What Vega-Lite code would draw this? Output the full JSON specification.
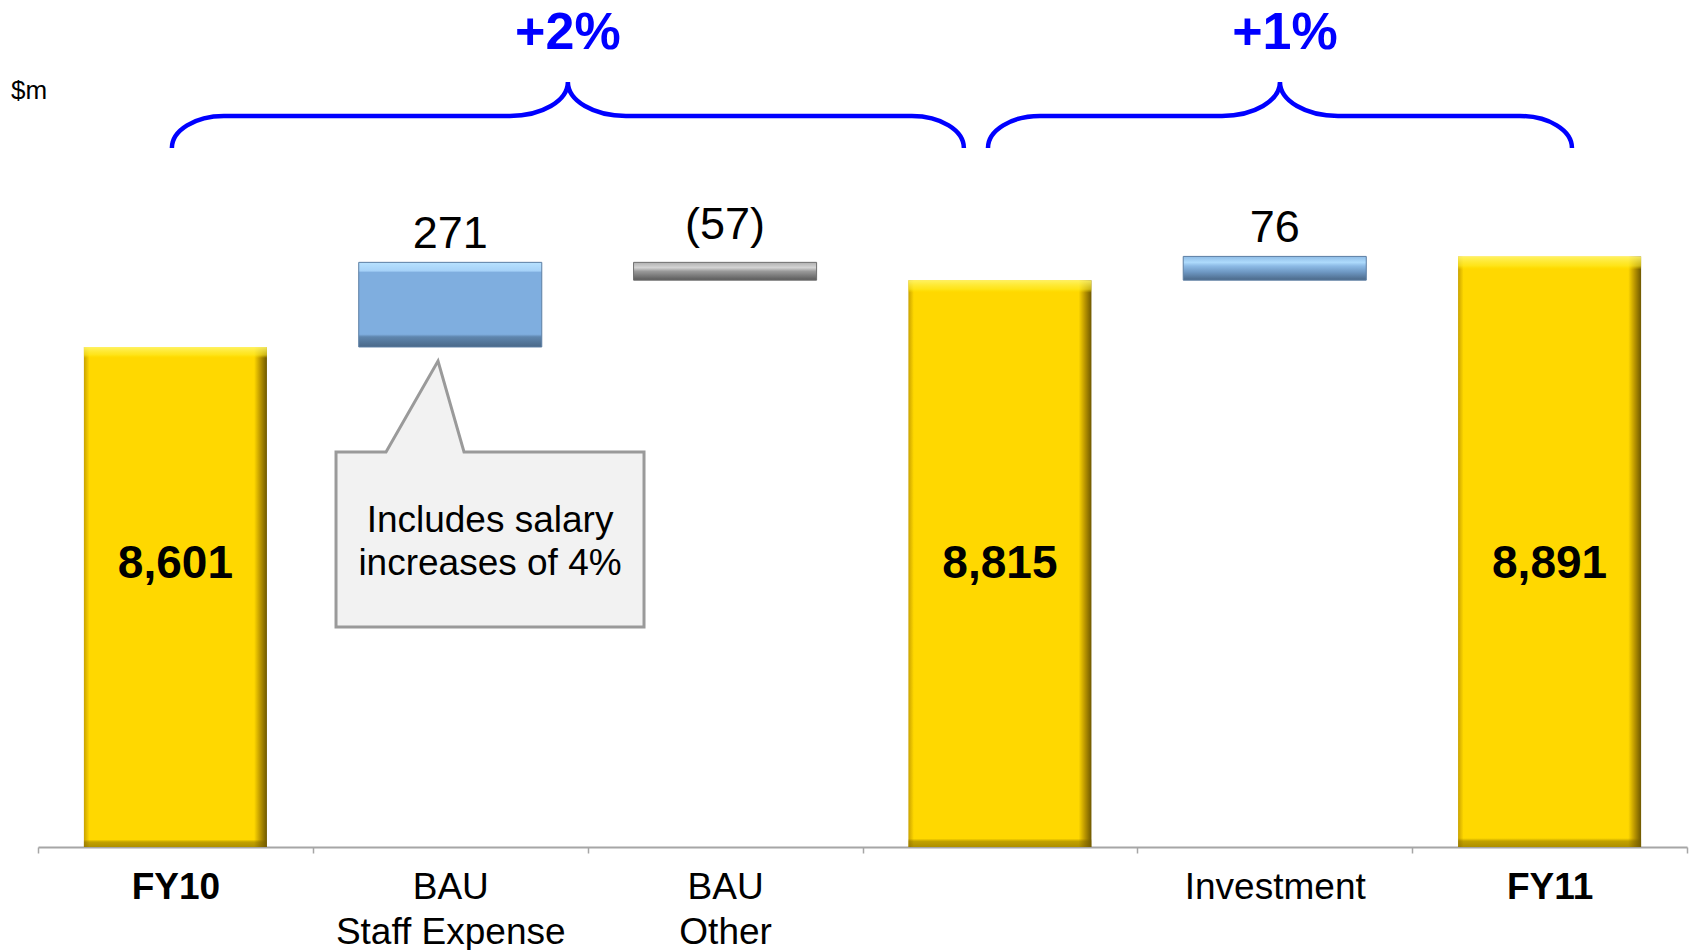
{
  "$schema": "https://vega.github.io/schema/vega-lite/v6.json",
  "width": 1649,
  "height": 847,
  "autosize": {"type": "none"},
  "padding": {"left": 38, "top": 0, "right": 5, "bottom": 103},
  "background": "white",
  "config": {"view": {"stroke": null}, "font": "Liberation Sans"},
  "datasets": {
    "bars": [
      {"cat": "FY10", "start": 0, "end": 8601, "kind": "total", "label": "8,601"},
      {"cat": "BAU Staff Expense", "start": 8601, "end": 8872, "kind": "up", "label": "271"},
      {"cat": "BAU Other", "start": 8872, "end": 8815, "kind": "down", "label": "(57)"},
      {"cat": "Subtotal", "start": 0, "end": 8815, "kind": "total", "label": "8,815"},
      {"cat": "Investment", "start": 8815, "end": 8891, "kind": "up2", "label": "76"},
      {"cat": "FY11", "start": 0, "end": 8891, "kind": "total", "label": "8,891"}
    ]
  },
  "layer": [
    {
      "data": {"name": "bars"},
      "encoding": {
        "x": {
          "field": "cat",
          "type": "nominal",
          "sort": null,
          "scale": {
            "domain": ["FY10", "BAU Staff Expense", "BAU Other", "Subtotal", "Investment", "FY11"],
            "paddingInner": 0,
            "paddingOuter": 0
          },
          "axis": {
            "title": null,
            "labelAngle": 0,
            "grid": false,
            "domainColor": "#A6A6A6",
            "domainWidth": 2,
            "tickColor": "#A6A6A6",
            "tickWidth": 1.5,
            "tickSize": 6,
            "tickBand": "extent",
            "labelFont": "Liberation Sans",
            "labelFontSize": 37,
            "labelColor": "#000000",
            "labelPadding": 16,
            "labelLineHeight": 45,
            "labelLimit": 600,
            "labelOverlap": false,
            "labelBound": false,
            "labelFlush": false,
            "labelFontWeight": {"condition": {"test": "datum.value == 'FY10' || datum.value == 'FY11'", "value": "bold"}, "value": "normal"},
            "labelExpr": "datum.value == 'BAU Staff Expense' ? ['BAU', 'Staff Expense'] : datum.value == 'BAU Other' ? ['BAU', 'Other'] : datum.value == 'Subtotal' ? '' : datum.label"
          }
        }
      },
      "layer": [
        {
          "transform": [{"filter": "datum.kind == 'total'"}],
          "mark": {
            "type": "bar",
            "width": {"band": 0.666},
            "fill": {"gradient": "linear", "x1": 0, "y1": 0, "x2": 1, "y2": 0,
              "stops": [
                {"offset": 0, "color": "#C9A200"},
                {"offset": 0.03, "color": "#FFD800"},
                {"offset": 0.93, "color": "#FFD800"},
                {"offset": 0.965, "color": "#B89400"},
                {"offset": 1, "color": "#6E5800"}
              ]},
            "strokeWidth": 0
          },
          "encoding": {
            "y": {"field": "end", "type": "quantitative", "scale": {"domain": [7000, 9712], "nice": false, "zero": false, "clamp": true}, "axis": null},
            "y2": {"field": "start"}
          }
        },
        {
          "transform": [{"filter": "datum.kind == 'total'"}],
          "mark": {
            "type": "bar",
            "width": {"band": 0.666},
            "fill": {"gradient": "linear", "x1": 0, "y1": 0, "x2": 0, "y2": 1,
              "stops": [
                {"offset": 0, "color": "rgba(255,245,110,0.9)"},
                {"offset": 0.016, "color": "rgba(255,236,40,0.6)"},
                {"offset": 0.022, "color": "rgba(255,230,0,0)"},
                {"offset": 0.985, "color": "rgba(120,95,0,0)"},
                {"offset": 0.99, "color": "rgba(120,95,0,0.45)"},
                {"offset": 1, "color": "rgba(120,95,0,0.6)"}
              ]},
            "strokeWidth": 0
          },
          "encoding": {
            "y": {"field": "end", "type": "quantitative"},
            "y2": {"field": "start"}
          }
        },
        {
          "transform": [{"filter": "datum.kind == 'up'"}],
          "mark": {
            "type": "bar",
            "width": {"band": 0.666},
            "fill": {"gradient": "linear", "x1": 0, "y1": 0, "x2": 0, "y2": 1,
              "stops": [
                {"offset": 0, "color": "#B8E2FF"},
                {"offset": 0.1, "color": "#A6D2F8"},
                {"offset": 0.12, "color": "#7FAEDF"},
                {"offset": 0.85, "color": "#7FAEDF"},
                {"offset": 0.88, "color": "#5F86AE"},
                {"offset": 1, "color": "#4A6888"}
              ]},
            "stroke": "#5C7EA3",
            "strokeWidth": 1
          },
          "encoding": {
            "y": {"field": "end", "type": "quantitative"},
            "y2": {"field": "start"}
          }
        },
        {
          "transform": [{"filter": "datum.kind == 'up2'"}],
          "mark": {
            "type": "bar",
            "width": {"band": 0.666},
            "fill": {"gradient": "linear", "x1": 0, "y1": 0, "x2": 0, "y2": 1,
              "stops": [
                {"offset": 0, "color": "#8FBCE6"},
                {"offset": 0.25, "color": "#AEDBFC"},
                {"offset": 0.4, "color": "#8DBBE6"},
                {"offset": 0.65, "color": "#6F99C4"},
                {"offset": 1, "color": "#4A6888"}
              ]},
            "stroke": "#5C7EA3",
            "strokeWidth": 1
          },
          "encoding": {
            "y": {"field": "end", "type": "quantitative"},
            "y2": {"field": "start"}
          }
        },
        {
          "transform": [{"filter": "datum.kind == 'down'"}],
          "mark": {
            "type": "bar",
            "width": {"band": 0.666},
            "fill": {"gradient": "linear", "x1": 0, "y1": 0, "x2": 0, "y2": 1,
              "stops": [
                {"offset": 0, "color": "#B0B0B0"},
                {"offset": 0.3, "color": "#D4D4D4"},
                {"offset": 0.5, "color": "#9A9A9A"},
                {"offset": 1, "color": "#5A5A5A"}
              ]},
            "stroke": "#6E6E6E",
            "strokeWidth": 1
          },
          "encoding": {
            "y": {"field": "end", "type": "quantitative"},
            "y2": {"field": "start"}
          }
        },
        {
          "transform": [{"filter": "datum.kind == 'total'"}],
          "mark": {"type": "text", "font": "Liberation Sans", "fontSize": 46, "fontWeight": "bold", "color": "#000000", "align": "center", "baseline": "middle"},
          "encoding": {
            "y": {"datum": 7905, "type": "quantitative"},
            "text": {"field": "label"}
          }
        },
        {
          "transform": [{"filter": "datum.kind == 'up' || datum.kind == 'up2'"}],
          "mark": {"type": "text", "font": "Liberation Sans", "fontSize": 45, "color": "#000000", "align": "center", "baseline": "alphabetic", "dy": -14},
          "encoding": {
            "y": {"field": "end", "type": "quantitative"},
            "text": {"field": "label"}
          }
        },
        {
          "transform": [{"filter": "datum.kind == 'down'"}],
          "mark": {"type": "text", "font": "Liberation Sans", "fontSize": 45, "color": "#000000", "align": "center", "baseline": "alphabetic", "dy": -23},
          "encoding": {
            "y": {"field": "start", "type": "quantitative"},
            "text": {"field": "label"}
          }
        }
      ]
    },
    {
      "data": {"values": [{}]},
      "layer": [
        {
          "mark": {"type": "point", "shape": "M -396 66 A 52 32 0 0 1 -344 34 L -58 34 A 58 34 0 0 0 0 0 A 58 34 0 0 0 58 34 L 344 34 A 52 32 0 0 1 396 66", "size": 4, "filled": false, "stroke": "#0000FF", "strokeWidth": 4.5, "opacity": 1},
          "encoding": {
            "x": {"datum": 1.928, "type": "quantitative", "scale": {"domain": [0, 6], "nice": false, "zero": false}, "axis": null},
            "y": {"datum": 9449.6, "type": "quantitative"}
          }
        },
        {
          "mark": {"type": "point", "shape": "M -292 66 A 52 32 0 0 1 -240 34 L -58 34 A 58 34 0 0 0 0 0 A 58 34 0 0 0 58 34 L 240 34 A 52 32 0 0 1 292 66", "size": 4, "filled": false, "stroke": "#0000FF", "strokeWidth": 4.5, "opacity": 1},
          "encoding": {
            "x": {"datum": 4.519, "type": "quantitative", "scale": {"domain": [0, 6], "nice": false, "zero": false}, "axis": null},
            "y": {"datum": 9449.6, "type": "quantitative"}
          }
        },
        {
          "mark": {"type": "text", "text": "+2%", "font": "Liberation Sans", "fontSize": 52, "fontWeight": "bold", "color": "#0000FF", "align": "center", "baseline": "alphabetic"},
          "encoding": {
            "x": {"datum": 1.928, "type": "quantitative", "scale": {"domain": [0, 6], "nice": false, "zero": false}, "axis": null},
            "y": {"datum": 9555, "type": "quantitative"}
          }
        },
        {
          "mark": {"type": "text", "text": "+1%", "font": "Liberation Sans", "fontSize": 52, "fontWeight": "bold", "color": "#0000FF", "align": "center", "baseline": "alphabetic"},
          "encoding": {
            "x": {"datum": 4.537, "type": "quantitative", "scale": {"domain": [0, 6], "nice": false, "zero": false}, "axis": null},
            "y": {"datum": 9555, "type": "quantitative"}
          }
        },
        {
          "mark": {"type": "text", "text": "$m", "font": "Liberation Sans", "fontSize": 26, "color": "#000000", "align": "left", "baseline": "alphabetic"},
          "encoding": {
            "x": {"datum": -0.098, "type": "quantitative", "scale": {"domain": [0, 6], "nice": false, "zero": false}, "axis": null},
            "y": {"datum": 9395, "type": "quantitative"}
          }
        },
        {
          "mark": {"type": "point", "shape": "M -154 -87.5 L -104 -87.5 L -52 -178.5 L -26 -87.5 L 154 -87.5 L 154 87.5 L -154 87.5 Z", "size": 4, "filled": true, "fill": "#F2F2F2", "stroke": "#9A9A9A", "strokeWidth": 3, "opacity": 1},
          "encoding": {
            "x": {"datum": 1.6447, "type": "quantitative", "scale": {"domain": [0, 6], "nice": false, "zero": false}, "axis": null},
            "y": {"datum": 7984.6, "type": "quantitative"}
          }
        },
        {
          "mark": {"type": "text", "text": ["Includes salary", "increases of 4%"], "font": "Liberation Sans", "fontSize": 37, "lineHeight": 43.5, "color": "#000000", "align": "center", "baseline": "alphabetic"},
          "encoding": {
            "x": {"datum": 1.6447, "type": "quantitative", "scale": {"domain": [0, 6], "nice": false, "zero": false}, "axis": null},
            "y": {"datum": 8008.6, "type": "quantitative"}
          }
        }
      ]
    }
  ],
  "resolve": {"scale": {"x": "independent"}}
}
